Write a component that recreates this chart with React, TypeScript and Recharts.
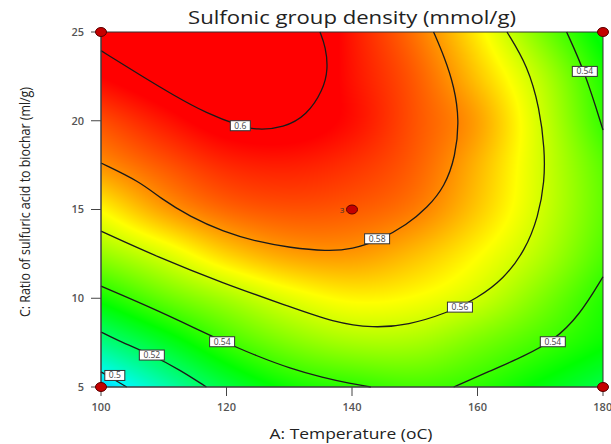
import React from 'react';
import { ComposedChart, XAxis, YAxis, Line, Scatter, ReferenceArea, ReferenceDot } from 'recharts';

// ---------- data ----------
const xTicks = [100, 120, 140, 160, 180];
const yTicks = [5, 10, 15, 20, 25];

// response surface values estimated on a grid (rows: y = 5 .. 25, cols: x = 100 .. 180)
const gridX = [100, 110, 120, 130, 140, 150, 160, 170, 180];
const gridY = [5, 7.5, 10, 12.5, 15, 17.5, 20, 22.5, 25];
const gridZ = [
  [0.4935, 0.5095, 0.5245, 0.5345, 0.5385, 0.5415, 0.5385, 0.5315, 0.5235],
  [0.5155, 0.528, 0.5405, 0.5495, 0.5545, 0.5545, 0.5485, 0.5415, 0.534],
  [0.535, 0.546, 0.5545, 0.5625, 0.567, 0.5655, 0.5598, 0.5495, 0.5375],
  [0.5525, 0.5615, 0.5715, 0.5775, 0.5785, 0.574, 0.5665, 0.5565, 0.543],
  [0.5665, 0.5775, 0.5845, 0.587, 0.586, 0.582, 0.5725, 0.56, 0.5455],
  [0.5795, 0.5865, 0.5922, 0.5935, 0.591, 0.5855, 0.575, 0.5605, 0.5445],
  [0.5876, 0.5944, 0.6, 0.6003, 0.5955, 0.587, 0.5775, 0.56, 0.5395],
  [0.597, 0.602, 0.607, 0.604, 0.595, 0.586, 0.573, 0.557, 0.5365],
  [0.603, 0.607, 0.61, 0.606, 0.5944, 0.583, 0.568, 0.549, 0.53],
];

const contour060 = [
  { x: 100, y: 23.95 }, { x: 106.2, y: 22.58 }, { x: 111.5, y: 21.45 }, { x: 116.8, y: 20.42 },
  { x: 122.2, y: 19.7 }, { x: 124.8, y: 19.48 }, { x: 129.1, y: 19.6 }, { x: 132.8, y: 20.3 },
  { x: 135.4, y: 21.73 }, { x: 136.2, y: 22.9 }, { x: 135.8, y: 24.17 }, { x: 134.9, y: 25 },
];
const contour058 = [
  { x: 100, y: 17.62 }, { x: 106.2, y: 16.57 }, { x: 109.4, y: 15.65 }, { x: 114.2, y: 14.59 },
  { x: 119.5, y: 13.75 }, { x: 124.8, y: 13.19 }, { x: 130.1, y: 12.85 }, { x: 136, y: 12.65 },
  { x: 140, y: 12.75 }, { x: 144.5, y: 13.3 }, { x: 148.7, y: 14.13 }, { x: 152, y: 15.1 }, { x: 154.8, y: 16.3 },
  { x: 156.5, y: 18.0 }, { x: 157.1, y: 20.04 }, { x: 156.3, y: 21.92 }, { x: 154.7, y: 23.61 },
  { x: 153.0, y: 25 },
];
const contour056 = [
  { x: 100, y: 13.78 }, { x: 108.9, y: 12.34 }, { x: 119.5, y: 10.84 }, { x: 130.1, y: 9.52 },
  { x: 137, y: 8.65 }, { x: 143.4, y: 8.31 }, { x: 149, y: 8.5 }, { x: 155, y: 9.15 },
  { x: 160.0, y: 10.0 }, { x: 164.2, y: 11.1 }, { x: 167.6, y: 12.7 }, { x: 169.7, y: 14.6 },
  { x: 170.7, y: 16.6 }, { x: 170.7, y: 18.4 }, { x: 169.9, y: 20.7 }, { x: 168.0, y: 23.1 },
  { x: 164.7, y: 25 },
];
const contour054Left = [
  { x: 100, y: 10.68 }, { x: 108.9, y: 9.34 }, { x: 119.2, y: 7.6 }, { x: 124.8, y: 6.75 },
  { x: 130.1, y: 6.05 }, { x: 135.4, y: 5.52 }, { x: 139.7, y: 5.2 }, { x: 143.0, y: 5.0 },
];
const contour054Right = [
  { x: 156.2, y: 5.0 }, { x: 162.0, y: 5.9 }, { x: 167.5, y: 6.75 }, { x: 172.1, y: 7.6 },
  { x: 176.3, y: 9.05 }, { x: 180, y: 11.21 },
];
const contour054Top = [
  { x: 174.2, y: 25 }, { x: 177.1, y: 22.76 }, { x: 180, y: 19.48 },
];
const contour052 = [
  { x: 100, y: 8.1 }, { x: 102.2, y: 7.7 }, { x: 108.2, y: 6.79 }, { x: 112.6, y: 5.96 }, { x: 116.8, y: 5.0 },
];
const contour050 = [
  { x: 100, y: 5.85 }, { x: 104.1, y: 5.0 },
];

const contours = [contour060, contour058, contour056, contour054Left, contour054Right, contour054Top, contour052, contour050];

const contourLabels = [
  { x: 122.2, y: 19.72, text: '0.6' },
  { x: 144.0, y: 13.35, text: '0.58' },
  { x: 157.2, y: 9.5, text: '0.56' },
  { x: 119.3, y: 7.55, text: '0.54' },
  { x: 108.1, y: 6.8, text: '0.52' },
  { x: 102.2, y: 5.65, text: '0.5' },
  { x: 172.0, y: 7.55, text: '0.54' },
  { x: 177.1, y: 22.78, text: '0.54' },
];

const designPoints = [
  { x: 100, y: 25, label: '' },
  { x: 180, y: 25, label: '' },
  { x: 100, y: 5, label: '' },
  { x: 180, y: 5, label: '' },
  { x: 140, y: 15, label: '3' },
];

// ---------- colour field ----------
const colorStops: [number, number, number, number][] = [
  [0.467, 0, 0, 255],
  [0.5, 0, 250, 250],
  [0.533, 0, 255, 0],
  [0.566, 255, 255, 0],
  [0.597, 255, 0, 0],
];

function colorOf(z: number): [number, number, number] {
  if (z <= colorStops[0][0]) return [colorStops[0][1], colorStops[0][2], colorStops[0][3]];
  for (let k = 1; k < colorStops.length; k++) {
    const a = colorStops[k - 1];
    const b = colorStops[k];
    if (z <= b[0]) {
      const t = (z - a[0]) / (b[0] - a[0]);
      return [a[1] + (b[1] - a[1]) * t, a[2] + (b[2] - a[2]) * t, a[3] + (b[3] - a[3]) * t];
    }
  }
  const l = colorStops[colorStops.length - 1];
  return [l[1], l[2], l[3]];
}

function zAt(ix: number, iy: number): number {
  const nx = gridX.length;
  const ny = gridY.length;
  if (ix < 0) return 2 * zAt(0, iy) - zAt(1, iy);
  if (ix >= nx) return 2 * zAt(nx - 1, iy) - zAt(nx - 2, iy);
  if (iy < 0) return 2 * zAt(ix, 0) - zAt(ix, 1);
  if (iy >= ny) return 2 * zAt(ix, ny - 1) - zAt(ix, ny - 2);
  return gridZ[iy][ix];
}

function cr(p0: number, p1: number, p2: number, p3: number, t: number) {
  return 0.5 * (2 * p1 + (-p0 + p2) * t + (2 * p0 - 5 * p1 + 4 * p2 - p3) * t * t + (-p0 + 3 * p1 - 3 * p2 + p3) * t * t * t);
}

function sample(u: number, v: number) {
  const nx = gridX.length;
  const ny = gridY.length;
  let i0 = Math.floor(u);
  let j0 = Math.floor(v);
  i0 = Math.max(0, Math.min(nx - 2, i0));
  j0 = Math.max(0, Math.min(ny - 2, j0));
  const tx = u - i0;
  const ty = v - j0;
  const rows: number[] = [];
  for (let dj = -1; dj <= 2; dj++) {
    const jj = j0 + dj;
    rows.push(cr(zAt(i0 - 1, jj), zAt(i0, jj), zAt(i0 + 1, jj), zAt(i0 + 2, jj), tx));
  }
  return cr(rows[0], rows[1], rows[2], rows[3], ty);
}

function buildHeat(): string {
  if (typeof document === 'undefined') return '';
  const W = 502;
  const H = 355;
  const c = document.createElement('canvas');
  c.width = W;
  c.height = H;
  const ctx = c.getContext('2d');
  if (!ctx) return '';
  const img = ctx.createImageData(W, H);
  const x0 = gridX[0], x1 = gridX[gridX.length - 1];
  const y0 = gridY[0], y1 = gridY[gridY.length - 1];
  const dx = gridX[1] - gridX[0];
  const dy = gridY[1] - gridY[0];
  for (let j = 0; j < H; j++) {
    const yv = y1 - ((j + 0.5) / H) * (y1 - y0);
    const v = (yv - y0) / dy;
    for (let i = 0; i < W; i++) {
      const xv = x0 + ((i + 0.5) / W) * (x1 - x0);
      const u = (xv - x0) / dx;
      const [r, g, b] = colorOf(sample(u, v));
      const o = (j * W + i) * 4;
      img.data[o] = r;
      img.data[o + 1] = g;
      img.data[o + 2] = b;
      img.data[o + 3] = 255;
    }
  }
  ctx.putImageData(img, 0, 0);
  return c.toDataURL();
}

const HEAT_URL = buildHeat();

const FONT = '"Open Sans", "Noto Sans", sans-serif';

function LabelBox(props: { cx: number; cy: number; text: string }) {
  const { cx, cy, text } = props;
  const w = text.length * 5 + 5;
  const h = 10;
  return (
    <g>
      <rect x={cx - w / 2} y={cy - h / 2} width={w} height={h} fill="#fff" stroke="#333" strokeWidth={1} />
      <text x={cx} y={cy + 3} textAnchor="middle" fontSize={8.5} fontFamily={FONT} fill="#444">
        {text}
      </text>
    </g>
  );
}

export default function App() {
  return (
    <div style={{ position: 'absolute', left: 0, top: 0, width: 611, height: 444, background: '#fff' }}>
      <ComposedChart width={611} height={444} margin={{ top: 32, right: 8, bottom: 27, left: 51 }}>
        <XAxis
          dataKey="x"
          type="number"
          domain={[100, 180]}
          ticks={xTicks}
          height={30}
          tickSize={9}
          tickMargin={7}
          axisLine={{ stroke: '#444' }}
          tickLine={{ stroke: '#444' }}
          tick={{ fontSize: 11, fill: '#555', fontFamily: FONT, fontWeight: 600 }}
        />
        <YAxis
          dataKey="y"
          type="number"
          domain={[5, 25]}
          ticks={yTicks}
          width={50}
          tickSize={10}
          tickMargin={7}
          axisLine={{ stroke: '#444' }}
          tickLine={{ stroke: '#444' }}
          tick={{ fontSize: 11, fill: '#555', fontFamily: FONT, fontWeight: 600 }}
        />
        <ReferenceArea
          x1={100}
          x2={180}
          y1={5}
          y2={25}
          ifOverflow="visible"
          shape={(p: any) => (
            <image href={HEAT_URL} x={p.x} y={p.y} width={p.width} height={p.height} preserveAspectRatio="none" />
          )}
        />
        {contours.map((c, k) => (
          <Line
            key={k}
            data={c}
            dataKey="y"
            type="basis"
            stroke="#1a1a1a"
            strokeWidth={1.3}
            dot={false}
            activeDot={false}
            isAnimationActive={false}
          />
        ))}
        <ReferenceArea x1={100} x2={180} y1={5} y2={25} ifOverflow="visible" fill="none" stroke="#333" strokeWidth={1} />
        {contourLabels.map((l, k) => (
          <ReferenceDot
            key={'l' + k}
            x={l.x}
            y={l.y}
            ifOverflow="visible"
            shape={(p: any) => <LabelBox cx={p.cx} cy={p.cy} text={l.text} />}
          />
        ))}
        <Scatter
          data={designPoints}
          dataKey="y"
          isAnimationActive={false}
          shape={(p: any) => (
            <g>
              <ellipse cx={p.cx} cy={p.cy} rx={5.5} ry={4.5} fill="#c40000" stroke="#5a0000" strokeWidth={1} />
              {p.payload && p.payload.label ? (
                <text x={p.cx - 10} y={p.cy + 3} textAnchor="middle" fontSize={8} fontFamily={FONT} fill="#333">
                  {p.payload.label}
                </text>
              ) : null}
            </g>
          )}
        />
      </ComposedChart>
      <svg width={611} height={444} style={{ position: 'absolute', left: 0, top: 0, pointerEvents: 'none' }}>
        <text x={352} y={24} textAnchor="middle" fontSize={18} fontFamily={FONT} fill="#222" textLength={328} lengthAdjust="spacingAndGlyphs">
          Sulfonic group density (mmol/g)
        </text>
        <text x={351} y={439} textAnchor="middle" fontSize={14} fontFamily={FONT} fill="#222" textLength={163} lengthAdjust="spacingAndGlyphs">
          A: Temperature (oC)
        </text>
        <text
          x={0}
          y={0}
          transform="translate(30,202) rotate(-90)"
          textAnchor="middle"
          fontSize={14}
          fontFamily={FONT}
          fill="#222"
          textLength={230}
          lengthAdjust="spacingAndGlyphs"
        >
          C: Ratio of sulfuric acid to biochar (ml/g)
        </text>
      </svg>
    </div>
  );
}
